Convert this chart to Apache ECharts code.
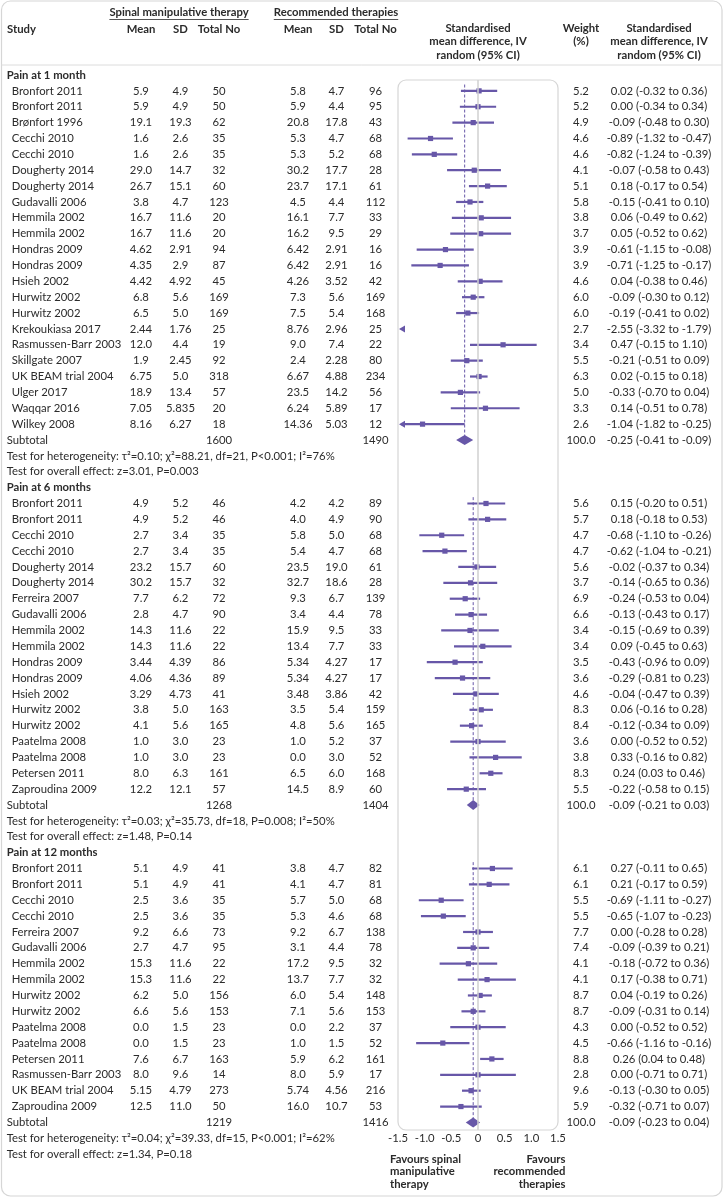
<!DOCTYPE html>
<html><head><meta charset="utf-8">
<script src="https://cdn.jsdelivr.net/npm/echarts@6/dist/echarts.min.js"></script>
<style>html,body{margin:0;padding:0;background:#fff}#c{width:727px;height:1200px}</style>
</head><body><div id="c"></div>
<script>
// ---------------- DATA ----------------
const groupTitles = ['Pain at 1 month', 'Pain at 6 months', 'Pain at 12 months'];
const hetTexts = [
  'Test for heterogeneity: τ²=0.10; χ²=88.21, df=21, P<0.001; I²=76%',
  'Test for heterogeneity: τ²=0.03; χ²=35.73, df=18, P=0.008; I²=50%',
  'Test for heterogeneity: τ²=0.04; χ²=39.33, df=15, P<0.001; I²=62%'
];
const overallTexts = [
  'Test for overall effect: z=3.01, P=0.003',
  'Test for overall effect: z=1.48, P=0.14',
  'Test for overall effect: z=1.34, P=0.18'
];
const xTicks = [-1.5, -1.0, -0.5, 0, 0.5, 1.0, 1.5];

// Pain at 1 month
const g1Study = ['Bronfort 2011','Bronfort 2011','Brønfort 1996','Cecchi 2010','Cecchi 2010','Dougherty 2014','Dougherty 2014','Gudavalli 2006','Hemmila 2002','Hemmila 2002','Hondras 2009','Hondras 2009','Hsieh 2002','Hurwitz 2002','Hurwitz 2002','Krekoukiasa 2017','Rasmussen-Barr 2003','Skillgate 2007','UK BEAM trial 2004','Ulger 2017','Waqqar 2016','Wilkey 2008'];
const g1SmtMean = ['5.9','5.9','19.1','1.6','1.6','29.0','26.7','3.8','16.7','16.7','4.62','4.35','4.42','6.8','6.5','2.44','12.0','1.9','6.75','18.9','7.05','8.16'];
const g1SmtSD = ['4.9','4.9','19.3','2.6','2.6','14.7','15.1','4.7','11.6','11.6','2.91','2.9','4.92','5.6','5.0','1.76','4.4','2.45','5.0','13.4','5.835','6.27'];
const g1SmtN = ['50','50','62','35','35','32','60','123','20','20','94','87','45','169','169','25','19','92','318','57','20','18'];
const g1RecMean = ['5.8','5.9','20.8','5.3','5.3','30.2','23.7','4.5','16.1','16.2','6.42','6.42','4.26','7.3','7.5','8.76','9.0','2.4','6.67','23.5','6.24','14.36'];
const g1RecSD = ['4.7','4.4','17.8','4.7','5.2','17.7','17.1','4.4','7.7','9.5','2.91','2.91','3.52','5.6','5.4','2.96','7.4','2.28','4.88','14.2','5.89','5.03'];
const g1RecN = ['96','95','43','68','68','28','61','112','33','29','16','16','42','169','168','25','22','80','234','56','17','12'];
const g1Weight = [5.2,5.2,4.9,4.6,4.6,4.1,5.1,5.8,3.8,3.7,3.9,3.9,4.6,6.0,6.0,2.7,3.4,5.5,6.3,5.0,3.3,2.6];
const g1Smd = [0.02,0.00,-0.09,-0.89,-0.82,-0.07,0.18,-0.15,0.06,0.05,-0.61,-0.71,0.04,-0.09,-0.19,-2.55,0.47,-0.21,0.02,-0.33,0.14,-1.04];
const g1Lo = [-0.32,-0.34,-0.48,-1.32,-1.24,-0.58,-0.17,-0.41,-0.49,-0.52,-1.15,-1.25,-0.38,-0.30,-0.41,-3.32,-0.15,-0.51,-0.15,-0.70,-0.51,-1.82];
const g1Hi = [0.36,0.34,0.30,-0.47,-0.39,0.43,0.54,0.10,0.62,0.62,-0.08,-0.17,0.46,0.12,0.02,-1.79,1.10,0.09,0.18,0.04,0.78,-0.25];

// Pain at 6 months
const g2Study = ['Bronfort 2011','Bronfort 2011','Cecchi 2010','Cecchi 2010','Dougherty 2014','Dougherty 2014','Ferreira 2007','Gudavalli 2006','Hemmila 2002','Hemmila 2002','Hondras 2009','Hondras 2009','Hsieh 2002','Hurwitz 2002','Hurwitz 2002','Paatelma 2008','Paatelma 2008','Petersen 2011','Zaproudina 2009'];
const g2SmtMean = ['4.9','4.9','2.7','2.7','23.2','30.2','7.7','2.8','14.3','14.3','3.44','4.06','3.29','3.8','4.1','1.0','1.0','8.0','12.2'];
const g2SmtSD = ['5.2','5.2','3.4','3.4','15.7','15.7','6.2','4.7','11.6','11.6','4.39','4.36','4.73','5.0','5.6','3.0','3.0','6.3','12.1'];
const g2SmtN = ['46','46','35','35','60','32','72','90','22','22','86','89','41','163','165','23','23','161','57'];
const g2RecMean = ['4.2','4.0','5.8','5.4','23.5','32.7','9.3','3.4','15.9','13.4','5.34','5.34','3.48','3.5','4.8','1.0','0.0','6.5','14.5'];
const g2RecSD = ['4.2','4.9','5.0','4.7','19.0','18.6','6.7','4.4','9.5','7.7','4.27','4.27','3.86','5.4','5.6','5.2','3.0','6.0','8.9'];
const g2RecN = ['89','90','68','68','61','28','139','78','33','33','17','17','42','159','165','37','52','168','60'];
const g2Weight = [5.6,5.7,4.7,4.7,5.6,3.7,6.9,6.6,3.4,3.4,3.5,3.6,4.6,8.3,8.4,3.6,3.8,8.3,5.5];
const g2Smd = [0.15,0.18,-0.68,-0.62,-0.02,-0.14,-0.24,-0.13,-0.15,0.09,-0.43,-0.29,-0.04,0.06,-0.12,0.00,0.33,0.24,-0.22];
const g2Lo = [-0.20,-0.18,-1.10,-1.04,-0.37,-0.65,-0.53,-0.43,-0.69,-0.45,-0.96,-0.81,-0.47,-0.16,-0.34,-0.52,-0.16,0.03,-0.58];
const g2Hi = [0.51,0.53,-0.26,-0.21,0.34,0.36,0.04,0.17,0.39,0.63,0.09,0.23,0.39,0.28,0.09,0.52,0.82,0.46,0.15];

// Pain at 12 months
const g3Study = ['Bronfort 2011','Bronfort 2011','Cecchi 2010','Cecchi 2010','Ferreira 2007','Gudavalli 2006','Hemmila 2002','Hemmila 2002','Hurwitz 2002','Hurwitz 2002','Paatelma 2008','Paatelma 2008','Petersen 2011','Rasmussen-Barr 2003','UK BEAM trial 2004','Zaproudina 2009'];
const g3SmtMean = ['5.1','5.1','2.5','2.5','9.2','2.7','15.3','15.3','6.2','6.6','0.0','0.0','7.6','8.0','5.15','12.5'];
const g3SmtSD = ['4.9','4.9','3.6','3.6','6.6','4.7','11.6','11.6','5.0','5.6','1.5','1.5','6.7','9.6','4.79','11.0'];
const g3SmtN = ['41','41','35','35','73','95','22','22','156','153','23','23','163','14','273','50'];
const g3RecMean = ['3.8','4.1','5.7','5.3','9.2','3.1','17.2','13.7','6.0','7.1','0.0','1.0','5.9','8.0','5.74','16.0'];
const g3RecSD = ['4.7','4.7','5.0','4.6','6.7','4.4','9.5','7.7','5.4','5.6','2.2','1.5','6.2','5.9','4.56','10.7'];
const g3RecN = ['82','81','68','68','138','78','32','32','148','153','37','52','161','17','216','53'];
const g3Weight = [6.1,6.1,5.5,5.5,7.7,7.4,4.1,4.1,8.7,8.7,4.3,4.5,8.8,2.8,9.6,5.9];
const g3Smd = [0.27,0.21,-0.69,-0.65,0.00,-0.09,-0.18,0.17,0.04,-0.09,0.00,-0.66,0.26,0.00,-0.13,-0.32];
const g3Lo = [-0.11,-0.17,-1.11,-1.07,-0.28,-0.39,-0.72,-0.38,-0.19,-0.31,-0.52,-1.16,0.04,-0.71,-0.30,-0.71];
const g3Hi = [0.65,0.59,-0.27,-0.23,0.28,0.21,0.36,0.71,0.26,0.14,0.52,-0.16,0.48,0.71,0.05,0.07];

// Subtotals
const subSmtN = ['1600','1268','1219'];
const subRecN = ['1490','1404','1416'];
const subWeight = [100.0, 100.0, 100.0];
const subSmd = [-0.25, -0.09, -0.09];
const subLo = [-0.41, -0.21, -0.23];
const subHi = [-0.09, 0.03, 0.04];

// ---------------- LAYOUT ----------------
const COLOR = '#6757a8';
const TXT = '#2b2b2b';
const FF = 'Lato';
const FS = 11.3;
const ROW0 = 75, PITCH = 15.87;
const PANEL_L = 398, PANEL_W = 160, PANEL_T = 80, PANEL_B = 1130;
const COL = { study: 11.7, left: 6.7, smtMean: 141, smtSD: 180.5, smtN: 219, recMean: 298, recSD: 336.5, recN: 375.5, weight: 581, ci: 659 };

const groups = [
  {study:g1Study, smtMean:g1SmtMean, smtSD:g1SmtSD, smtN:g1SmtN, recMean:g1RecMean, recSD:g1RecSD, recN:g1RecN, weight:g1Weight, smd:g1Smd, lo:g1Lo, hi:g1Hi},
  {study:g2Study, smtMean:g2SmtMean, smtSD:g2SmtSD, smtN:g2SmtN, recMean:g2RecMean, recSD:g2RecSD, recN:g2RecN, weight:g2Weight, smd:g2Smd, lo:g2Lo, hi:g2Hi},
  {study:g3Study, smtMean:g3SmtMean, smtSD:g3SmtSD, smtN:g3SmtN, recMean:g3RecMean, recSD:g3RecSD, recN:g3RecN, weight:g3Weight, smd:g3Smd, lo:g3Lo, hi:g3Hi}
];

const fmtCI = (m, l, h) => m.toFixed(2) + ' (' + l.toFixed(2) + ' to ' + h.toFixed(2) + ')';

const rows = [];
const studyData = [];
const diamondData = [];
const refData = [];
let r = 0;
groups.forEach((g, gi) => {
  rows.push({row: r++, items: [[COL.left, groupTitles[gi], 'left', true]]});
  const first = r;
  g.study.forEach((s, i) => {
    rows.push({row: r, items: [
      [COL.study, s, 'left'],
      [COL.smtMean, g.smtMean[i], 'center'], [COL.smtSD, g.smtSD[i], 'center'], [COL.smtN, g.smtN[i], 'center'],
      [COL.recMean, g.recMean[i], 'center'], [COL.recSD, g.recSD[i], 'center'], [COL.recN, g.recN[i], 'center'],
      [COL.weight, g.weight[i].toFixed(1), 'center'], [COL.ci, fmtCI(g.smd[i], g.lo[i], g.hi[i]), 'center']
    ]});
    studyData.push([g.smd[i], r, g.lo[i], g.hi[i]]);
    r++;
  });
  rows.push({row: r, items: [
    [COL.left, 'Subtotal', 'left'], [COL.smtN, subSmtN[gi], 'center'], [COL.recN, subRecN[gi], 'center'],
    [COL.weight, subWeight[gi].toFixed(1), 'center'], [COL.ci, fmtCI(subSmd[gi], subLo[gi], subHi[gi]), 'center']
  ]});
  diamondData.push([subSmd[gi], r, subLo[gi], subHi[gi]]);
  refData.push([subSmd[gi], first - 0.4, r]);
  r++;
  rows.push({row: r++, items: [[COL.left, hetTexts[gi], 'left']]});
  rows.push({row: r++, items: [[COL.left, overallTexts[gi], 'left']]});
});

const XMIN = xTicks[0], XMAX = xTicks[xTicks.length - 1];

function renderStudy(params, api) {
  const smd = api.value(0), row = api.value(1), lo = api.value(2), hi = api.value(3);
  const y = api.coord([0, row])[1];
  const xl = api.coord([XMIN, row])[0], xr = api.coord([XMAX, row])[0];
  const ch = [];
  const arrow = (x, dir) => ({type: 'polygon', shape: {points: [[x, y], [x + dir * 6, y - 3.5], [x + dir * 6, y + 3.5]]}, style: {fill: COLOR}});
  if (hi < XMIN) { ch.push(arrow(xl + 1, 1)); }
  else if (lo > XMAX) { ch.push(arrow(xr - 1, -1)); }
  else {
    let x1 = api.coord([Math.max(lo, XMIN), row])[0];
    let x2 = api.coord([Math.min(hi, XMAX), row])[0];
    if (lo < XMIN) { x1 = xl + 3; ch.push(arrow(xl + 1, 1)); }
    if (hi > XMAX) { x2 = xr - 3; ch.push(arrow(xr - 1, -1)); }
    ch.push({type: 'line', shape: {x1: x1, y1: y, x2: x2, y2: y}, style: {stroke: COLOR, lineWidth: 2.2}});
  }
  if (smd >= XMIN && smd <= XMAX) {
    const x = api.coord([smd, row])[0];
    ch.push({type: 'rect', shape: {x: x - 2.6, y: y - 2.6, width: 5.2, height: 5.2}, style: {fill: COLOR}});
  }
  return {type: 'group', children: ch};
}
function renderDiamond(params, api) {
  const smd = api.value(0), row = api.value(1), lo = api.value(2), hi = api.value(3);
  const c = api.coord([smd, row]), a = api.coord([lo, row]), b = api.coord([hi, row]);
  return {type: 'polygon', shape: {points: [[a[0], c[1]], [c[0], c[1] - 5], [b[0], c[1]], [c[0], c[1] + 5]]}, style: {fill: COLOR}};
}
function renderRef(params, api) {
  const p1 = api.coord([api.value(0), api.value(1)]), p2 = api.coord([api.value(0), api.value(2)]);
  return {type: 'line', shape: {x1: p1[0], y1: p1[1], x2: p2[0], y2: p2[1]}, style: {stroke: COLOR, lineWidth: 1, lineDash: [3, 2]}};
}
function renderTable(params, api) {
  const rw = rows[params.dataIndex];
  const y = api.coord([0, rw.row])[1];
  return {type: 'group', children: rw.items.map(it => ({
    type: 'text', x: api.coord([it[0], rw.row])[0], y: y,
    style: {text: it[1], fill: TXT, font: (it[3] ? 'bold ' : '') + FS + 'px ' + FF, align: it[2], verticalAlign: 'middle'}
  }))};
}

// text width helper for underlines
const mctx = document.createElement('canvas').getContext('2d');
function tw(t, font) { mctx.font = font; return mctx.measureText(t).width; }
const BF = 'bold ' + FS + 'px ' + FF;
const hTxt = (x, y, t, align) => ({type: 'text', x: x, y: y, silent: true, style: {text: t, fill: TXT, font: BF, align: align || 'center', verticalAlign: 'middle'}});
const uLine = (cx, y, t) => { const w = tw(t, BF); return {type: 'line', silent: true, shape: {x1: cx - w / 2, y1: y, x2: cx + w / 2, y2: y}, style: {stroke: '#555', lineWidth: 1}}; };

const graphics = [
  {type: 'rect', silent: true, z: -10, shape: {x: 1.5, y: 1, width: 720.5, height: 1195, r: 9}, style: {fill: 'none', stroke: '#d6d6d6', lineWidth: 1.2}},
  {type: 'rect', silent: true, z: -10, shape: {x: PANEL_L, y: PANEL_T, width: PANEL_W, height: PANEL_B - PANEL_T, r: 8}, style: {fill: 'none', stroke: '#d6d6d6', lineWidth: 1.2}},
  {type: 'line', silent: true, shape: {x1: 1.5, y1: 65, x2: 722, y2: 65}, style: {stroke: '#dcdcdc', lineWidth: 1}},
  hTxt(179, 12.7, 'Spinal manipulative therapy'), uLine(179, 19.5, 'Spinal manipulative therapy'),
  hTxt(336, 12.7, 'Recommended therapies'), uLine(336, 19.5, 'Recommended therapies'),
  hTxt(7, 29, 'Study', 'left'),
  hTxt(COL.smtMean, 29, 'Mean'), hTxt(COL.smtSD, 29, 'SD'), hTxt(COL.smtN, 29, 'Total No'),
  hTxt(COL.recMean, 29, 'Mean'), hTxt(COL.recSD, 29, 'SD'), hTxt(COL.recN, 29, 'Total No'),
  hTxt(478, 28.5, 'Standardised'), hTxt(478, 41.8, 'mean difference, IV'), hTxt(478, 55.1, 'random (95% CI)'),
  hTxt(COL.weight, 28.5, 'Weight'), hTxt(COL.weight, 41.8, '(%)'),
  hTxt(COL.ci, 28.5, 'Standardised'), hTxt(COL.ci, 41.8, 'mean difference, IV'), hTxt(COL.ci, 55.1, 'random (95% CI)'),
  hTxt(390, 1159, 'Favours spinal', 'left'), hTxt(390, 1171.6, 'manipulative', 'left'), hTxt(390, 1184.2, 'therapy', 'left'),
  hTxt(565.5, 1159, 'Favours', 'right'), hTxt(565.5, 1171.6, 'recommended', 'right'), hTxt(565.5, 1184.2, 'therapies', 'right')
];

const chart = echarts.init(document.getElementById('c'), null, {renderer: 'canvas'});
chart.setOption({
  animation: false,
  backgroundColor: '#fff',
  grid: [
    {left: PANEL_L, width: PANEL_W, top: PANEL_T, height: PANEL_B - PANEL_T},
    {left: 0, width: 727, top: ROW0 - PITCH, height: PITCH * 70}
  ],
  xAxis: [
    {gridIndex: 0, type: 'value', min: XMIN, max: XMAX, interval: 0.5,
     axisLine: {show: false}, axisTick: {show: false}, splitLine: {show: false},
     axisLabel: {margin: 2.5, color: TXT, fontFamily: FF, fontSize: FS, showMinLabel: true, showMaxLabel: true,
       formatter: v => (Math.abs(v) < 1e-9 ? '0' : v.toFixed(1))}},
    {gridIndex: 1, type: 'value', min: 0, max: 727, show: false}
  ],
  yAxis: [
    {gridIndex: 0, type: 'value', inverse: true, min: (PANEL_T - ROW0) / PITCH, max: (PANEL_B - ROW0) / PITCH, show: false},
    {gridIndex: 1, type: 'value', inverse: true, min: -1, max: 69, show: false}
  ],
  graphic: graphics,
  series: [
    {type: 'custom', name: 'ref', xAxisIndex: 0, yAxisIndex: 0, renderItem: renderRef, data: refData, encode: {x: 0, y: 1}, z: 3, silent: true,
     markLine: {silent: true, symbol: 'none', label: {show: false}, lineStyle: {color: '#d0d0d0', width: 1.5, type: 'solid'}, data: [{xAxis: 0}]}},
    {type: 'custom', name: 'studies', xAxisIndex: 0, yAxisIndex: 0, renderItem: renderStudy, data: studyData, encode: {x: 0, y: 1}, z: 4, silent: true},
    {type: 'custom', name: 'subtotals', xAxisIndex: 0, yAxisIndex: 0, renderItem: renderDiamond, data: diamondData, encode: {x: 0, y: 1}, z: 4, silent: true},
    {type: 'custom', name: 'table', xAxisIndex: 1, yAxisIndex: 1, renderItem: renderTable, data: rows.map(rw => [0, rw.row]), encode: {x: 0, y: 1}, z: 5, silent: true}
  ]
});
</script>
</body></html>
